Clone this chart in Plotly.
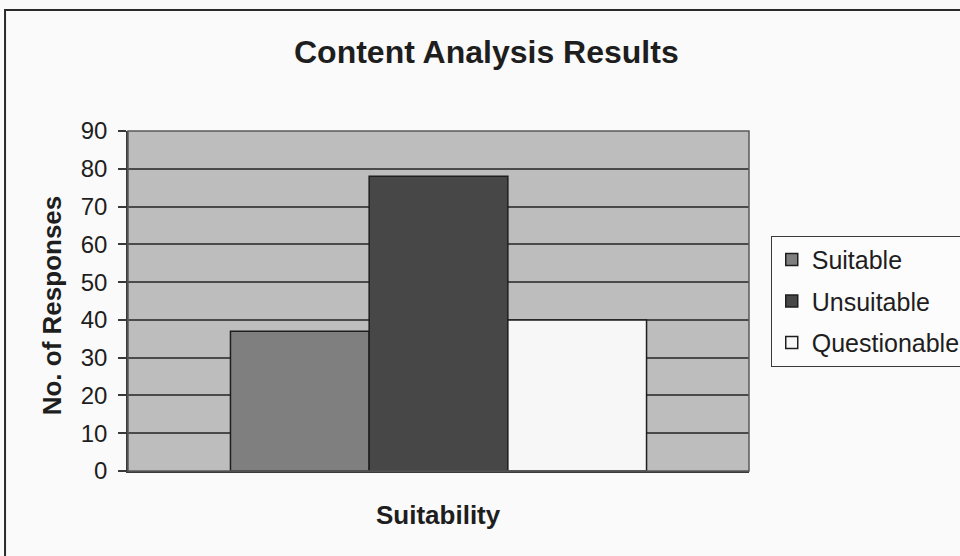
import plotly.graph_objects as go

# Survey content analysis: number of responses per suitability rating
category = ["Suitability"]
series_names = ["Suitable", "Unsuitable", "Questionable"]
series_values = [37, 78, 40]
series_colors = ["#7f7f7f", "#474747", "#f7f7f7"]
y_ticks = [0, 10, 20, 30, 40, 50, 60, 70, 80, 90]

FONT = "Liberation Sans, Arial, sans-serif"
INK = "#1e1e1e"

fig = go.Figure()
for name, val, col in zip(series_names, series_values, series_colors):
    fig.add_trace(go.Bar(
        x=[""], y=[val], name=name, legendgroup=name,
        marker=dict(color=col, line=dict(color="#1e1e1e", width=1.5)),
    ))

fig.update_layout(
    width=960, height=556,
    margin=dict(l=128, r=211, t=131, b=85, autoexpand=False),
    paper_bgcolor="#fafafa",
    plot_bgcolor="#bdbdbd",
    barmode="group",
    bargap=0.33,
    bargroupgap=0,
    font=dict(family=FONT, color=INK),
    showlegend=True,
    legend=dict(
        x=1.035, y=0.692, xanchor="left", yanchor="top",
        font=dict(size=25, family=FONT, color=INK),
        bgcolor="#fcfcfc", bordercolor="#3a3a3a", borderwidth=1,
        traceorder="grouped", tracegroupgap=6,
    ),
    annotations=[
        dict(text="<b>Content Analysis Results</b>", xref="paper", yref="paper",
             x=0.577, y=1.232, xanchor="center", yanchor="middle", showarrow=False,
             font=dict(size=32, family=FONT, color=INK)),
        dict(text="<b>No. of Responses</b>", xref="paper", yref="paper",
             x=-0.122, y=0.488, xanchor="center", yanchor="middle", showarrow=False,
             textangle=-90, font=dict(size=26, family=FONT, color=INK)),
        dict(text="<b>Suitability</b>", xref="paper", yref="paper",
             x=0.5, y=-0.13, xanchor="center", yanchor="middle", showarrow=False,
             font=dict(size=26, family=FONT, color=INK)),
    ],
    shapes=[
        # chart-area frame
        dict(type="rect", xref="paper", yref="paper",
             x0=-0.198, x1=1.4, y0=-0.3, y1=1.356,
             line=dict(color="#2a2a2a", width=2), layer="below"),
        # plot-area border
        dict(type="rect", xref="paper", yref="paper",
             x0=0, x1=1, y0=0, y1=1,
             line=dict(color="#5a5a5a", width=1.5)),
    ],
)

fig.update_xaxes(showticklabels=False, showgrid=False, zeroline=False,
                 showline=True, linecolor="#3a3a3a", linewidth=1.5, ticks="")
fig.update_yaxes(range=[0, 90], tickvals=y_ticks, ticks="outside", ticklen=8,
                 tickcolor="#3a3a3a", tickwidth=1.5, ticklabelstandoff=6,
                 showline=True, linecolor="#3a3a3a", linewidth=1.5,
                 showgrid=True, gridcolor="#4a4a4a", gridwidth=1.5, zeroline=False,
                 tickfont=dict(size=24, family=FONT, color=INK))

fig.write_html("out.html")
